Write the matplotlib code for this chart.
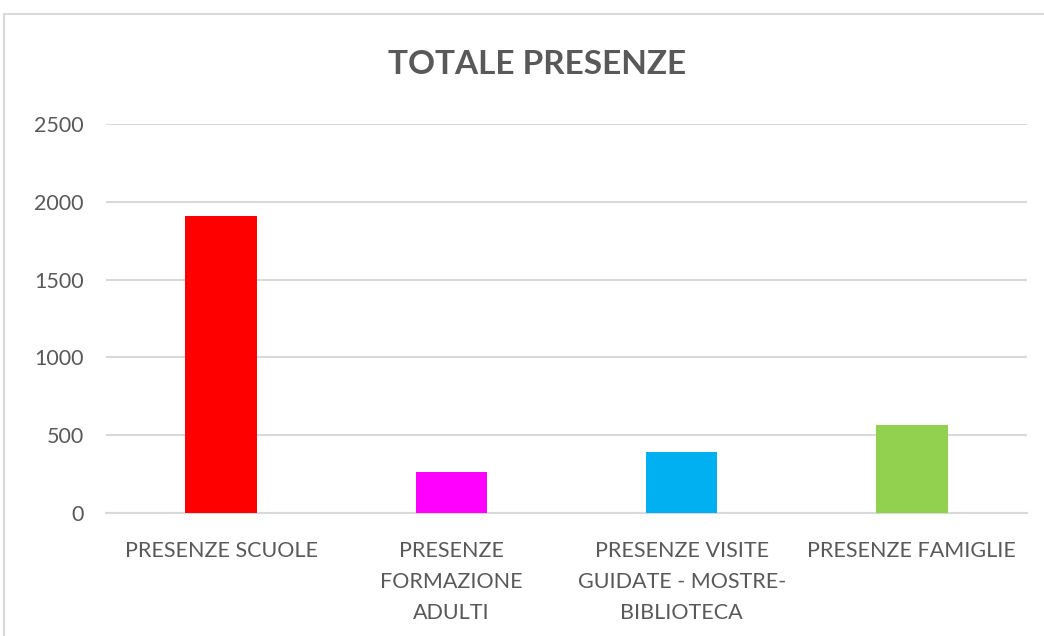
import numpy as np
import matplotlib.pyplot as plt
from matplotlib.patches import Rectangle

categories = ['PRESENZE SCUOLE', 'PRESENZE\nFORMAZIONE\nADULTI',
              'PRESENZE VISITE\nGUIDATE - MOSTRE-\nBIBLIOTECA', 'PRESENZE FAMIGLIE']
values = [1910, 265, 390, 564]
colors = ['#ff0000', '#ff00ff', '#00b0f0', '#92d050']
yticks = [0, 500, 1000, 1500, 2000, 2500]

plt.rcParams['font.family'] = ['Lato', 'DejaVu Sans']
text_color = '#595959'

fig = plt.figure(figsize=(10.44, 6.36), dpi=100)
ax = fig.add_axes([106 / 1044, 1 - 513 / 636, 921 / 1044, 389 / 636])

# chart border
fig.patches.append(Rectangle((4 / 1044, -0.1), 1.1, 1 - 14 / 636 + 0.1,
                             transform=fig.transFigure, fill=False,
                             edgecolor='#d9d9d9', linewidth=1.5))

x = np.arange(len(categories))
ax.bar(x, values, width=0.31, color=colors, zorder=3)

ax.set_xlim(-0.5, len(categories) - 0.5)
ax.set_ylim(0, 2500)
ax.set_yticks(yticks)
ax.set_yticklabels([str(v) for v in yticks])
ax.set_xticks(x)
ax.set_xticklabels(categories, linespacing=1.7)

ax.grid(axis='y', color='#d9d9d9', linewidth=1.5, zorder=0)
for s in ['top', 'right', 'left']:
    ax.spines[s].set_visible(False)
ax.spines['bottom'].set_color('#d9d9d9')
ax.spines['bottom'].set_linewidth(1.5)
ax.tick_params(axis='both', length=0, colors=text_color, labelsize=15.5)
ax.tick_params(axis='x', pad=20)
ax.tick_params(axis='y', pad=16)

fig.text(537 / 1044, 1 - 64 / 636, 'TOTALE PRESENZE', ha='center', va='center',
         fontsize=24, fontweight='bold', color=text_color)

fig.savefig('out.png', dpi=100)
